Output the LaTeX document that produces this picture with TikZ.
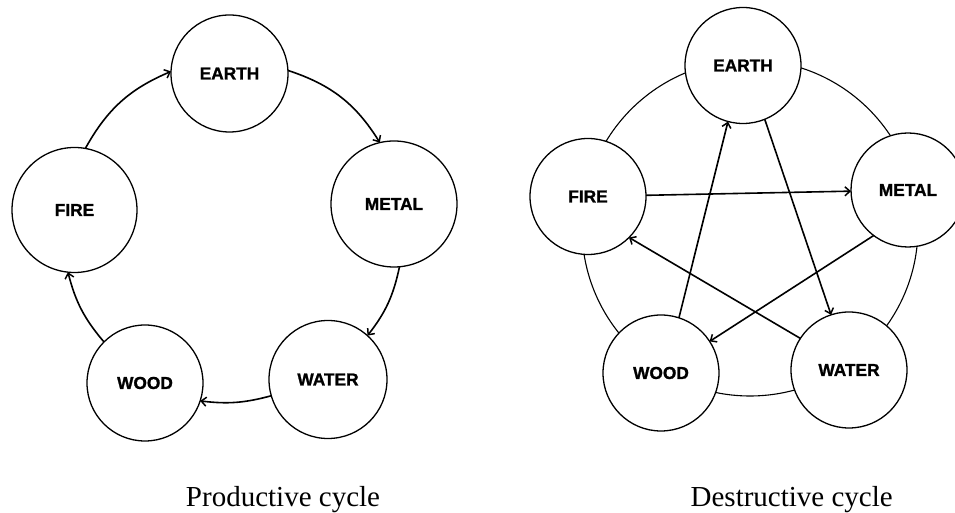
\documentclass[tikz,border=0pt]{standalone}
\usepackage{fontspec}
\setmainfont{Liberation Serif}
\newfontfamily\lblfont{Liberation Sans}[FakeBold=1.2]
\usetikzlibrary{arrows.meta}
\tikzset{
  elem/.style={circle, draw, line width=1.3pt, fill=white, inner sep=0pt, outer sep=0pt,
    font=\lblfont\bfseries\fontsize{17.3}{20}\selectfont},
  flow/.style={line width=1.6pt, -{Straight Barb[length=5pt,width=9pt,line width=1.5pt]}},
  ring/.style={line width=1.1pt},
  captext/.style={font=\fontsize{29}{32}\selectfont, anchor=base, inner sep=0pt}
}
\begin{document}
\begin{tikzpicture}[x=1pt,y=1pt]
\useasboundingbox (0,0) rectangle (955,513);
% ---- productive cycle ----
\node[elem, minimum size=117pt] (earthA) at (229.5,439.5) {EARTH};
\node[elem, minimum size=125pt] (fireA)  at (74.5,303) {FIRE};
\node[elem, minimum size=126pt] (metalA) at (394,309) {METAL};
\node[elem, minimum size=118pt] (waterA) at (328,133.5) {WATER};
\node[elem, minimum size=116pt] (woodA)  at (145,130) {WOOD};
\draw[flow] (earthA.3)   to[bend left=20] (metalA.103);
\draw[flow] (metalA.-85) to[bend left=13] (waterA.48);
\draw[flow] (waterA.196) to[bend left=11] (woodA.342);
\draw[flow] (woodA.135)  to[bend left=13] (fireA.264);
\draw[flow] (fireA.80)   to[bend left=19] (earthA.178);
\node[captext] (capA) at (283,6) {Productive cycle};
% ---- destructive cycle ----
\node[circle, draw, ring, minimum size=336pt, inner sep=0pt] (ringB) at (750,285) {};
\node[elem, minimum size=116pt] (earthB) at (743,447.5) {EARTH};
\node[elem, minimum size=116pt] (fireB)  at (588,316.5) {FIRE};
\node[elem, minimum size=114pt] (metalB) at (908,323) {METAL};
\node[elem, minimum size=116pt] (woodB)  at (661,140) {WOOD};
\node[elem, minimum size=116pt] (waterB) at (849,143) {WATER};
\draw[flow] (fireB) -- (metalB);
\draw[flow] (woodB.72) -- (earthB.255);
\draw[flow] (earthB.292) -- (waterB.108);
\draw[flow] (metalB.233) -- (woodB.33);
\draw[flow] (waterB.147) -- (fireB.315);
\node[captext] (capB) at (791.7,6) {Destructive cycle};
\end{tikzpicture}
\end{document}
